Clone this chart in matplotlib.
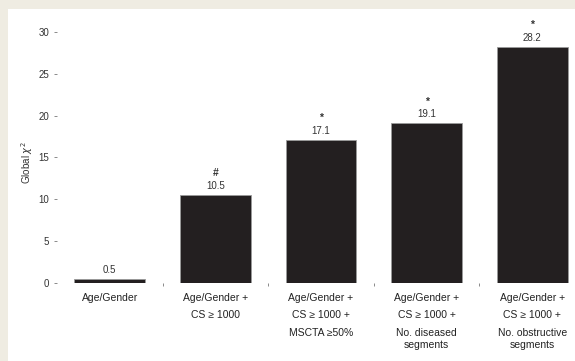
import matplotlib.pyplot as plt
from matplotlib.patches import Rectangle
from matplotlib.transforms import blended_transform_factory

plt.rcParams['font.family'] = ['Liberation Sans', 'DejaVu Sans']

models = ["Age/Gender", "Age/Gender +\nCS ≥ 1000",
          "Age/Gender +\nCS ≥ 1000 +\nMSCTA ≥50%",
          "Age/Gender +\nCS ≥ 1000 +\nNo. diseased\nsegments",
          "Age/Gender +\nCS ≥ 1000 +\nNo. obstructive\nsegments"]
chi2 = [0.5, 10.5, 17.1, 19.1, 28.2]
marks = ["", "#", "*", "*", "*"]

fig = plt.figure(figsize=(5.75, 3.61), dpi=100, facecolor="#efece2")
fig.patches.append(Rectangle((8 / 575, 0), 1, 1 - 9 / 361, transform=fig.transFigure,
                             facecolor="white", edgecolor="none", zorder=-10))
ax = fig.add_axes([57 / 575, 78 / 361, 1 - 57 / 575, (283 - 23.5) / 361])
ax.set_facecolor("none")

x = range(len(chi2))
ax.bar(x, chi2, width=0.67, color="#231f20", edgecolor="#9a9a9a", linewidth=0.6)

for xi, v, m in zip(x, chi2, marks):
    ax.annotate(f"{v}", (xi, v), xytext=(0, 3), textcoords="offset points",
                ha="center", va="bottom", fontsize=7, color="#333333")
    if m:
        ax.annotate(m, (xi, v), xytext=(0, 12), textcoords="offset points",
                    ha="center", va="bottom", fontsize=7.5, color="#333333",
                    fontweight="bold")

ax.set_xlim(-0.5, 4.405)
ax.set_ylim(0, 31)
ax.set_yticks([0, 5, 10, 15, 20, 25, 30])
ax.tick_params(axis="y", length=2.5, width=0.6, color="#777777", labelsize=7,
               labelcolor="#333333", pad=3)
ax.set_xticks([])
ax.set_xticks([0.5, 1.5, 2.5, 3.5], minor=True)
ax.tick_params(axis="x", which="minor", length=2.5, width=0.6, color="#777777")
for s in ax.spines.values():
    s.set_visible(False)

# category labels: first lines spaced widely, wrapped text lines close
trans = blended_transform_factory(ax.transData, fig.transFigure)
line_y = [298, 315, 333, 345]
for xi, label in zip(x, models):
    for i, line in enumerate(label.split("\n")):
        ax.text(xi, 1 - line_y[i] / 361, line, transform=trans, ha="center",
                va="center", fontsize=7.5, color="#222222")

fig.text(27 / 575, 1 - 163 / 361, "Global $\\chi^2$", rotation=90, ha="center",
         va="center", fontsize=7, color="#333333")

fig.savefig("out.png", dpi=100, facecolor=fig.get_facecolor())
